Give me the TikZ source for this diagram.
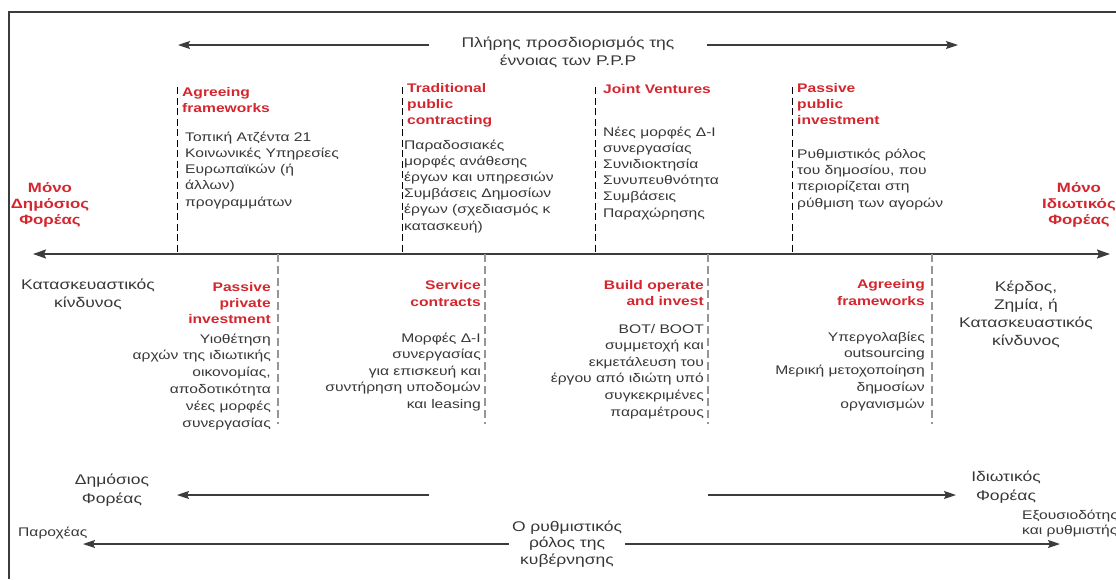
\documentclass[tikz,border=0pt]{standalone}
\usepackage{fontspec}
\setmainfont{Liberation Sans}[FakeStretch=1.25]
\usetikzlibrary{arrows.meta}
\definecolor{pppred}{RGB}{212,38,46}
\definecolor{ink}{RGB}{55,55,55}
\definecolor{rulegray}{RGB}{60,60,60}
\definecolor{dashgray}{RGB}{150,150,150}

% Multi-line nodes are placed by the baseline of their last line.
\begin{document}
\begin{tikzpicture}[x=1pt,y=-1pt,
  every node/.style={inner sep=0pt, text=ink},
  head/.style={text=pppred, font=\bfseries\fontsize{12.5}{16}\selectfont},
  headr/.style={head, align=right, anchor=base east},
  headl/.style={head, align=left, anchor=base west},
  body/.style={font=\fontsize{12.5}{16.2}\selectfont},
  bodyr/.style={body, align=right, anchor=base east},
  bodyl/.style={body, align=left, anchor=base west},
  side/.style={text=pppred, font=\bfseries\fontsize{13.5}{16}\selectfont, align=center, anchor=base},
  risk/.style={font=\fontsize{14}{18}\selectfont, align=center, anchor=base},
  actor/.style={font=\fontsize{14}{19}\selectfont, align=center, anchor=base},
  framing/.style={draw=rulegray, line width=1.6pt},
  arr/.style={draw=rulegray, line width=1.3pt, -{Stealth[length=12pt,width=8pt,inset=2pt]}},
  axisline/.style={draw=rulegray, line width=1.8pt, {Stealth[length=13pt,width=9pt,inset=2pt]}-{Stealth[length=13pt,width=9pt,inset=2pt]}},
  updash/.style={draw=black, line width=1pt, dash pattern=on 7pt off 3.5pt},
  lowdash/.style={draw=dashgray, line width=1.8pt, dash pattern=on 8pt off 4pt}
]
\useasboundingbox (0,0) rectangle (1116,579);
\clip (0,0) rectangle (1116,579);

% outer frame (top and left edges)
\draw[framing] (9,579) -- (9,12) -- (1116,12);

% heading with its two-way arrow
\node[font=\fontsize{14}{18}\selectfont, align=center, anchor=base, inner xsep=32pt] (title) at (568,65)
  {Πλήρης προσδιορισμός της\\έννοιας των P.P.P};
\coordinate (titleL) at (178,45);
\coordinate (titleR) at (958,45);
\draw[arr] (title.west |- titleL) -- (titleL);
\draw[arr] (title.east |- titleR) -- (titleR);

% main axis
\coordinate (axL) at (33,254);
\coordinate (axR) at (1110,254);
\draw[axisline] (axL) -- (axR);

% upper dividers
\foreach \n/\x in {u1/177, u2/402, u3/595, u4/792} {
  \coordinate (\n) at (\x,87);
  \draw[updash] (\n) -- (\n |- axL);
}
% lower dividers
\foreach \n/\x in {d1/278, d2/485, d3/708, d4/932} {
  \coordinate (\n) at (\x,424);
  \draw[lowdash] (\n |- axL) -- (\n);
}

% end labels of the axis
\node[side] (pubonly) at (50,224) {Μόνο\\Δημόσιος\\Φορέας};
\node[side] (privonly) at (1079,224) {Μόνο\\Ιδιωτικός\\Φορέας};

% upper blocks
\node[headl] (af1h) at (182,112) {Agreeing\\frameworks};
\node[bodyl] (af1b) at (185,206) {Τοπική Ατζέντα 21\\Κοινωνικές Υπηρεσίες\\Ευρωπαϊκών (ή\\άλλων)\\προγραμμάτων};

\node[headl] (tpch) at (407,124) {Traditional\\public\\contracting};
\node[bodyl] (tpcb) at (404,230) {Παραδοσιακές\\μορφές ανάθεσης\\έργων και υπηρεσιών\\Συμβάσεις Δημοσίων\\έργων (σχεδιασμός κ\\κατασκευή)};

\node[headl] (jvh) at (603,93) {Joint Ventures};
\node[bodyl] (jvb) at (603,217) {Νέες μορφές Δ-Ι\\συνεργασίας\\Συνιδιοκτησία\\Συνυπευθνότητα\\Συμβάσεις\\Παραχώρησης};

\node[headl] (ppuh) at (797,124) {Passive\\public\\investment};
\node[bodyl] (ppub) at (797,207) {Ρυθμιστικός ρόλος\\του δημοσίου, που\\περιορίζεται στη\\ρύθμιση των αγορών};

% lower blocks
\node[risk] (riskL) at (88,307) {Κατασκευαστικός\\κίνδυνος};

\node[headr] (pprh) at (271,323) {Passive\\private\\investment};
\node[bodyr, font=\fontsize{12.5}{16.8}\selectfont] (pprb) at (271,427) {Υιοθέτηση\\αρχών της ιδιωτικής\\οικονομίας,\\αποδοτικότητα\\νέες μορφές\\συνεργασίας};

\node[headr, font=\bfseries\fontsize{12.5}{17}\selectfont] (sch) at (481,306) {Service\\contracts};
\node[bodyr, font=\fontsize{12.5}{16.5}\selectfont] (scb) at (481,408) {Μορφές Δ-Ι\\συνεργασίας\\για επισκευή και\\συντήρηση υποδομών\\και leasing};

\node[headr] (boih) at (704,305) {Build operate\\and invest};
\node[bodyr, font=\fontsize{12.5}{16.6}\selectfont] (boib) at (704,416) {BOT/ BOOT\\συμμετοχή και\\εκμετάλευση του\\έργου από ιδιώτη υπό\\συγκεκριμένες\\παραμέτρους};

\node[headr, font=\bfseries\fontsize{12.5}{17.5}\selectfont] (af2h) at (925,305.5) {Agreeing\\frameworks};
\node[bodyr, font=\fontsize{12.5}{16.7}\selectfont] (af2b) at (925,408) {Υπεργολαβίες\\outsourcing\\Μερική μετοχοποίηση\\δημοσίων\\οργανισμών};

\node[risk] (riskR) at (1026,345) {Κέρδος,\\Ζημία, ή\\Κατασκευαστικός\\κίνδυνος};

% actors and the role of government
\node[actor] (pubactor) at (112,503) {Δημόσιος\\Φορέας};
\node[actor] (privactor) at (1006,500) {Ιδιωτικός\\Φορέας};
\coordinate (pubS) at (429,495);
\coordinate (pubE) at (177,495);
\coordinate (privS) at (708,495);
\coordinate (privE) at (956,495);
\draw[arr] (pubS) -- (pubE);
\draw[arr] (privS) -- (privE);

\node[font=\fontsize{12.5}{14}\selectfont, anchor=base west] (provider) at (18,536) {Παροχέας};
\node[font=\fontsize{12.5}{15}\selectfont, align=left, anchor=base west] (regulator) at (1022,534) {Εξουσιοδότης\\και ρυθμιστής};

\node[font=\fontsize{14}{16.5}\selectfont, align=center, anchor=base, inner xsep=3pt] (gov) at (567,564)
  {Ο ρυθμιστικός\\ρόλος της\\κυβέρνησης};
\coordinate (govL) at (83,544);
\coordinate (govR) at (1060,544);
\draw[arr] (gov.west |- govL) -- (govL);
\draw[arr] (gov.east |- govR) -- (govR);
\end{tikzpicture}
\end{document}
